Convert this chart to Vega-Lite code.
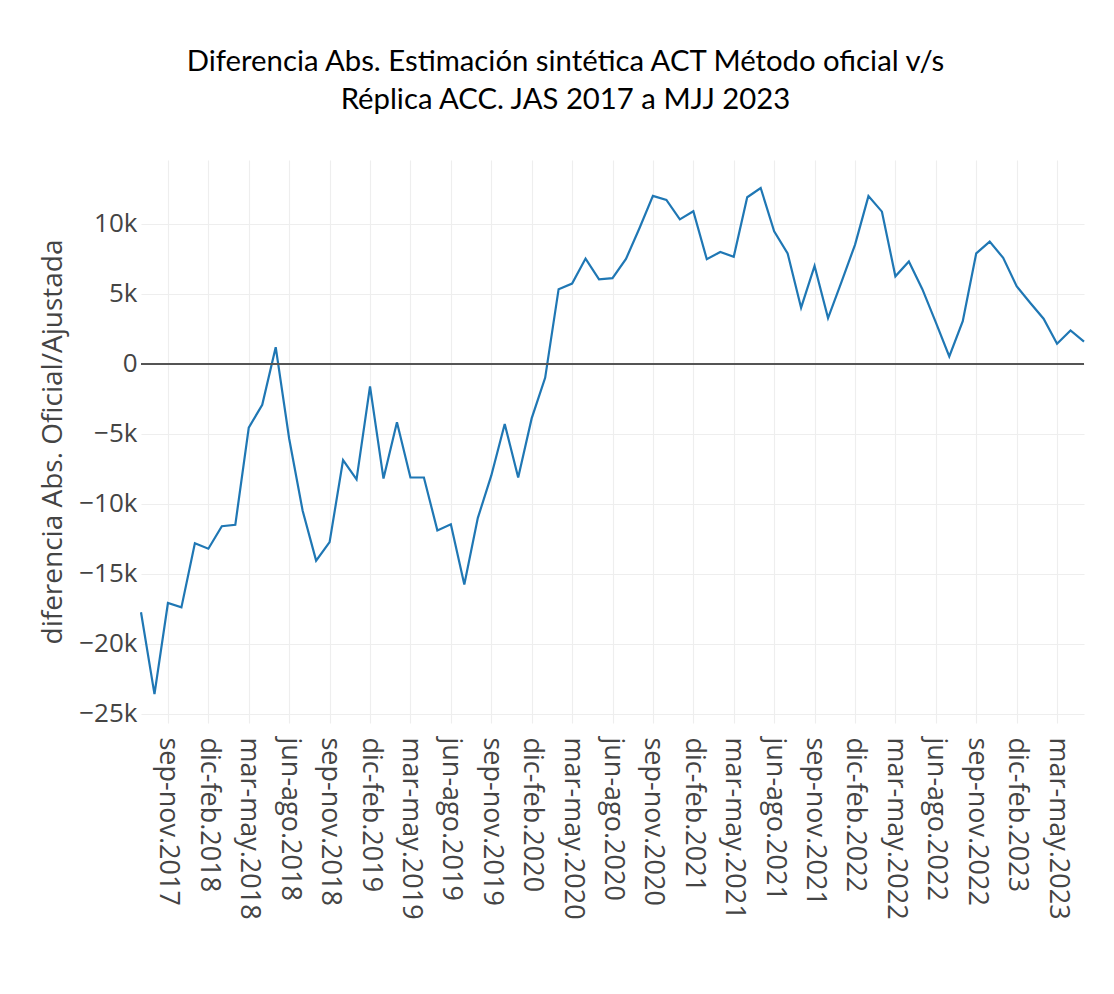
{
  "$schema": "https://vega.github.io/schema/vega-lite/v6.json",
  "autosize": {"type": "none"},
  "width": 943,
  "height": 563,
  "padding": {"left": 141, "top": 160, "right": 30, "bottom": 271},
  "background": "white",
  "title": {
    "text": ["Diferencia Abs. Estimación sintética ACT Método oficial v/s", "Réplica ACC. JAS 2017 a MJJ 2023"],
    "font": "Lato",
    "fontSize": 29.3,
    "fontWeight": "normal",
    "color": "#000000",
    "lineHeight": 38,
    "anchor": "middle",
    "dx": -47,
    "offset": 45
  },
  "config": {
    "view": {"stroke": null},
    "axis": {"labelFont": "Open Sans", "titleFont": "Open Sans", "labelColor": "#444444", "titleColor": "#444444", "gridColor": "#eeeeee", "gridWidth": 1.2}
  },
  "data": {"values": [
    {"trimestre": "jul-sep.2017", "dif": -17750},
    {"trimestre": "ago-oct.2017", "dif": -23600},
    {"trimestre": "sep-nov.2017", "dif": -17090},
    {"trimestre": "oct-dic.2017", "dif": -17400},
    {"trimestre": "nov-ene.2018", "dif": -12820},
    {"trimestre": "dic-feb.2018", "dif": -13210},
    {"trimestre": "ene-mar.2018", "dif": -11600},
    {"trimestre": "feb-abr.2018", "dif": -11500},
    {"trimestre": "mar-may.2018", "dif": -4560},
    {"trimestre": "abr-jun.2018", "dif": -2930},
    {"trimestre": "may-jul.2018", "dif": 1190},
    {"trimestre": "jun-ago.2018", "dif": -5350},
    {"trimestre": "jul-sep.2018", "dif": -10500},
    {"trimestre": "ago-oct.2018", "dif": -14060},
    {"trimestre": "sep-nov.2018", "dif": -12740},
    {"trimestre": "oct-dic.2018", "dif": -6880},
    {"trimestre": "nov-ene.2019", "dif": -8250},
    {"trimestre": "dic-feb.2019", "dif": -1610},
    {"trimestre": "ene-mar.2019", "dif": -8200},
    {"trimestre": "feb-abr.2019", "dif": -4170},
    {"trimestre": "mar-may.2019", "dif": -8120},
    {"trimestre": "abr-jun.2019", "dif": -8120},
    {"trimestre": "may-jul.2019", "dif": -11900},
    {"trimestre": "jun-ago.2019", "dif": -11470},
    {"trimestre": "jul-sep.2019", "dif": -15770},
    {"trimestre": "ago-oct.2019", "dif": -11020},
    {"trimestre": "sep-nov.2019", "dif": -7990},
    {"trimestre": "oct-dic.2019", "dif": -4300},
    {"trimestre": "nov-ene.2020", "dif": -8120},
    {"trimestre": "dic-feb.2020", "dif": -3900},
    {"trimestre": "ene-mar.2020", "dif": -1000},
    {"trimestre": "feb-abr.2020", "dif": 5330},
    {"trimestre": "mar-may.2020", "dif": 5730},
    {"trimestre": "abr-jun.2020", "dif": 7520},
    {"trimestre": "may-jul.2020", "dif": 6040},
    {"trimestre": "jun-ago.2020", "dif": 6120},
    {"trimestre": "jul-sep.2020", "dif": 7490},
    {"trimestre": "ago-oct.2020", "dif": 9680},
    {"trimestre": "sep-nov.2020", "dif": 12000},
    {"trimestre": "oct-dic.2020", "dif": 11710},
    {"trimestre": "nov-ene.2021", "dif": 10320},
    {"trimestre": "dic-feb.2021", "dif": 10900},
    {"trimestre": "ene-mar.2021", "dif": 7470},
    {"trimestre": "feb-abr.2021", "dif": 7990},
    {"trimestre": "mar-may.2021", "dif": 7650},
    {"trimestre": "abr-jun.2021", "dif": 11900},
    {"trimestre": "may-jul.2021", "dif": 12560},
    {"trimestre": "jun-ago.2021", "dif": 9470},
    {"trimestre": "jul-sep.2021", "dif": 7890},
    {"trimestre": "ago-oct.2021", "dif": 4010},
    {"trimestre": "sep-nov.2021", "dif": 6990},
    {"trimestre": "oct-dic.2021", "dif": 3270},
    {"trimestre": "nov-ene.2022", "dif": 5860},
    {"trimestre": "dic-feb.2022", "dif": 8500},
    {"trimestre": "ene-mar.2022", "dif": 11980},
    {"trimestre": "feb-abr.2022", "dif": 10870},
    {"trimestre": "mar-may.2022", "dif": 6250},
    {"trimestre": "abr-jun.2022", "dif": 7310},
    {"trimestre": "may-jul.2022", "dif": 5330},
    {"trimestre": "jun-ago.2022", "dif": 2960},
    {"trimestre": "jul-sep.2022", "dif": 530},
    {"trimestre": "ago-oct.2022", "dif": 3040},
    {"trimestre": "sep-nov.2022", "dif": 7890},
    {"trimestre": "oct-dic.2022", "dif": 8730},
    {"trimestre": "nov-ene.2023", "dif": 7570},
    {"trimestre": "dic-feb.2023", "dif": 5540},
    {"trimestre": "ene-mar.2023", "dif": 4360},
    {"trimestre": "feb-abr.2023", "dif": 3220},
    {"trimestre": "mar-may.2023", "dif": 1430},
    {"trimestre": "abr-jun.2023", "dif": 2380},
    {"trimestre": "may-jul.2023", "dif": 1590}
  ]},
  "layer": [
    {
      "mark": {"type": "line", "color": "#1f77b4", "strokeWidth": 2.2},
      "encoding": {
        "x": {
          "field": "trimestre", "type": "ordinal", "sort": null,
          "scale": {"type": "point", "padding": 0},
          "axis": {
            "title": null,
            "values": ["sep-nov.2017", "dic-feb.2018", "mar-may.2018", "jun-ago.2018", "sep-nov.2018", "dic-feb.2019", "mar-may.2019", "jun-ago.2019", "sep-nov.2019", "dic-feb.2020", "mar-may.2020", "jun-ago.2020", "sep-nov.2020", "dic-feb.2021", "mar-may.2021", "jun-ago.2021", "sep-nov.2021", "dic-feb.2022", "mar-may.2022", "jun-ago.2022", "sep-nov.2022", "dic-feb.2023", "mar-may.2023"],
            "labelAngle": 90, "labelAlign": "left", "labelBaseline": "middle",
            "labelFont": "Open Sans", "labelFontSize": 27, "labelPadding": 14, "labelOverlap": false, "labelLimit": 400,
            "domain": false, "ticks": false, "grid": true
          }
        },
        "y": {
          "field": "dif", "type": "quantitative",
          "scale": {"domain": [-25660, 14560], "nice": false, "zero": false},
          "axis": {
            "title": "diferencia Abs. Oficial/Ajustada",
            "values": [-25000, -20000, -15000, -10000, -5000, 0, 5000, 10000],
            "format": "~s",
            "labelExpr": "datum.value === 0 ? '0' : datum.label",
            "labelFont": "Open Sans", "titleFont": "Open Sans",
            "labelFontSize": 26, "labelPadding": 4,
            "titleFontSize": 28, "titleFontWeight": "normal", "titlePadding": 11,
            "domain": false, "ticks": false, "grid": true
          }
        }
      }
    },
    {
      "mark": {"type": "rule", "color": "#555555", "strokeWidth": 1.6},
      "encoding": {"y": {"datum": 0}}
    }
  ]
}
